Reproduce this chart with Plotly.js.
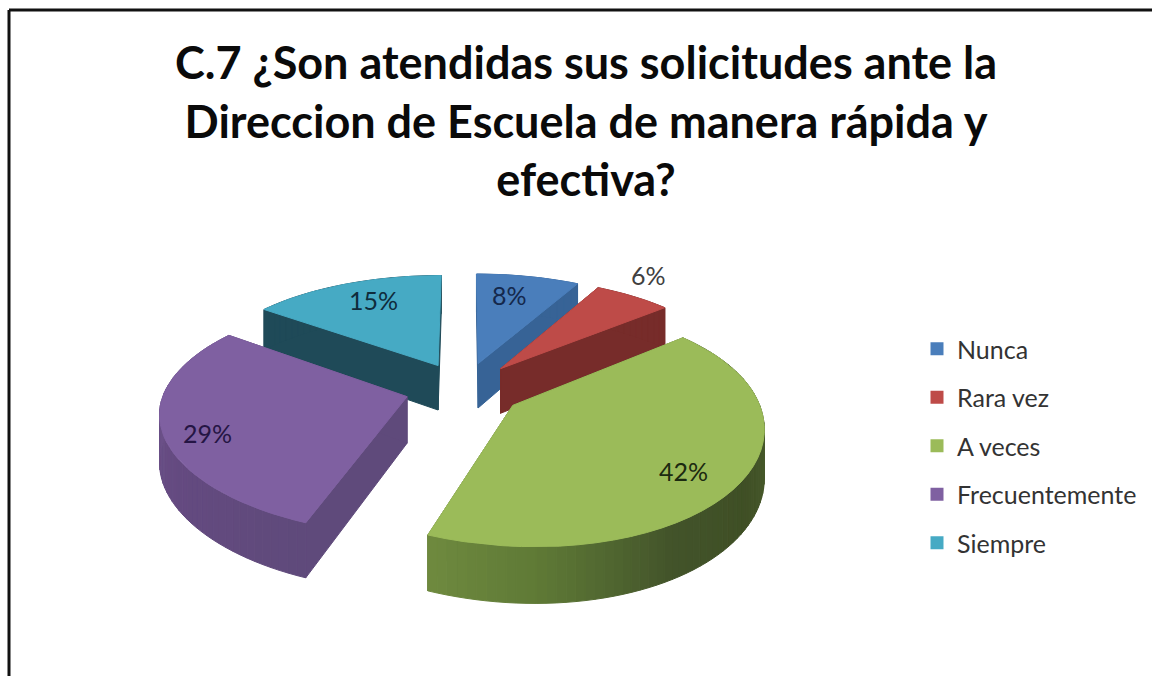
<!DOCTYPE html>
<html>
<head>
<meta charset="utf-8">
<script src="https://cdn.plot.ly/plotly-3.0.1.min.js"></script>
<style>html,body{margin:0;padding:0;background:#fff}#chart{width:1152px;height:676px}</style>
</head>
<body>
<div id="chart"></div>
<script>
// ---- chart data ----
const categories = ["Nunca", "Rara vez", "A veces", "Frecuentemente", "Siempre"];
const values = [8, 6, 42, 29, 15];
const labels = ["8%", "6%", "42%", "29%", "15%"];
const titleText = "C.7 ¿Son atendidas sus solicitudes ante la<br>Direccion de Escuela de manera rápida y<br>efectiva?";

// ---- styling ----
const topColors = ["#4a7ebb", "#be4b48", "#9bbb59", "#7f60a1", "#46aac4"];
const radialWallColors = ["#376396", "#772c2a", "#5b7233", "#5f4a7b", "#1f4a58"];
const labelColors = ["#14284c", "#404040", "#1c2a10", "#251544", "#0f2c3c"];
const labelX = [509, 648, 683, 207, 373];
const labelY = [295, 275, 471, 433, 300];
const arcShade = {
  2: [[50, "#4e6130"], [90, "#4e6130"], [125, "#3f4f25"], [150, "#42532a"], [180, "#5f7a36"], [202, "#6f8a3f"]],
  3: [[201, "#5f4a7b"], [240, "#644a80"], [270, "#6b5088"], [306, "#6b5088"]]
};
const arcDefault = ["#376396", "#772c2a", null, null, "#1f4a58"];
const drawOrder = [4, 0, 1, 3, 2];

// projection of the exploded disc (pixel axes)
const cx = 464, cy = 389, A = 242, B = 112, k = 0.165, kx = 0.14, pull = 0.243, depth = 46, skew = 11;

function project(X, Z, H) {
  const s = 1 / (1 - k * Z), sx = 1 / (1 - kx * Z);
  const front = Math.max(Z, 0);
  return [cx + A * X * sx + skew * front * front, cy + B * Z * s + depth * H * s];
}
const rad = d => d * Math.PI / 180;
const total = values.reduce((a, b) => a + b, 0);
let acc = 0;
const slices = values.map(v => {
  const a0 = acc / total * 360; acc += v;
  const a1 = acc / total * 360;
  const m = rad((a0 + a1) / 2);
  return { a0, a1, X0: pull * Math.sin(m), Z0: -pull * Math.cos(m) };
});
const rim = (sl, a, H) => project(sl.X0 + Math.sin(rad(a)), sl.Z0 - Math.cos(rad(a)), H);
const tip = (sl, H) => project(sl.X0, sl.Z0, H);

function hex(c) { return [1, 3, 5].map(i => parseInt(c.slice(i, i + 2), 16)); }
function shadeAt(stops, a) {
  if (a <= stops[0][0]) return stops[0][1];
  for (let i = 1; i < stops.length; i++) {
    if (a <= stops[i][0]) {
      const t = (a - stops[i - 1][0]) / (stops[i][0] - stops[i - 1][0]);
      const c0 = hex(stops[i - 1][1]), c1 = hex(stops[i][1]);
      return "rgb(" + c0.map((c, j) => Math.round(c + (c1[j] - c) * t)).join(",") + ")";
    }
  }
  return stops[stops.length - 1][1];
}
function poly(pts, color) {
  const closed = pts.concat([pts[0]]);
  return {
    type: "scatter", mode: "lines", fill: "toself", fillcolor: color,
    x: closed.map(p => p[0]), y: closed.map(p => p[1]),
    line: { color: color, width: 1 }, hoverinfo: "skip", showlegend: false
  };
}

const traces = [];
drawOrder.forEach(i => {
  const sl = slices[i];
  // radial walls
  [sl.a0, sl.a1].forEach(a => {
    traces.push(poly([tip(sl, 0), rim(sl, a, 0), rim(sl, a, 1), tip(sl, 1)], radialWallColors[i]));
  });
  // outer wall, in narrow bands so its shading can vary
  const n = Math.max(2, Math.round((sl.a1 - sl.a0) / 2));
  for (let j = 0; j < n; j++) {
    const u0 = sl.a0 + (sl.a1 - sl.a0) * j / n, u1 = sl.a0 + (sl.a1 - sl.a0) * (j + 1) / n;
    const col = arcShade[i] ? shadeAt(arcShade[i], (u0 + u1) / 2) : arcDefault[i];
    traces.push(poly([rim(sl, u0, 0), rim(sl, u1, 0), rim(sl, u1, 1), rim(sl, u0, 1)], col));
  }
  // top face
  const face = [tip(sl, 0)];
  for (let j = 0; j <= 40; j++) face.push(rim(sl, sl.a0 + (sl.a1 - sl.a0) * j / 40, 0));
  traces.push(poly(face, topColors[i]));
});

// legend entries
categories.forEach((c, i) => {
  traces.push({
    type: "scatter", mode: "markers", name: c, x: [null], y: [null], legendgroup: c,
    marker: { symbol: "square", size: 13, color: topColors[i] }, hoverinfo: "skip"
  });
});

const annotations = labels.map((t, i) => ({
  text: t, x: labelX[i], y: labelY[i], xref: "x", yref: "y", showarrow: false,
  xanchor: "center", yanchor: "middle",
  font: { family: "Lato, 'Open Sans', sans-serif", size: 25, color: labelColors[i] }
}));

const line = { color: "#111111", width: 3 };
const layout = {
  width: 1152, height: 676, margin: { l: 0, r: 0, t: 0, b: 0 },
  paper_bgcolor: "#ffffff", plot_bgcolor: "#ffffff",
  title: {
    text: titleText, x: 586 / 1152, xanchor: "center", y: 0.955, yanchor: "top", pad: { t: 49 },
    font: { family: "Lato, 'Open Sans', sans-serif", size: 45, color: "#0a0a0a", weight: 700 }
  },
  xaxis: { range: [0, 1152], visible: false, fixedrange: true },
  yaxis: { range: [676, 0], visible: false, fixedrange: true },
  showlegend: true,
  legend: {
    x: 917 / 1152, y: 1 - 326 / 676, xanchor: "left", yanchor: "top",
    font: { family: "Lato, 'Open Sans', sans-serif", size: 25, color: "#333333" },
    tracegroupgap: 13, itemwidth: 30, bgcolor: "rgba(0,0,0,0)"
  },
  annotations: annotations,
  shapes: [
    { type: "line", xref: "x", yref: "y", x0: 9, x1: 9, y0: 10, y1: 676, line: line },
    { type: "line", xref: "x", yref: "y", x0: 9, x1: 1152, y0: 10, y1: 10, line: line }
  ]
};
Plotly.newPlot("chart", traces, layout, { displayModeBar: false, staticPlot: true });
</script>
</body>
</html>
